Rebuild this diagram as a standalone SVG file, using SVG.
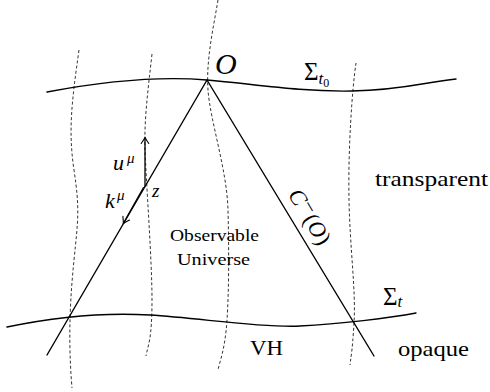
<svg xmlns="http://www.w3.org/2000/svg" width="490" height="392" viewBox="0 0 490 392">
<style>
.s{fill:none;stroke:#000;stroke-width:1.4;stroke-linecap:round;stroke-linejoin:round}
.d{fill:none;stroke:#000;stroke-width:0.8;stroke-dasharray:3 2.2}
.a{fill:none;stroke:#000;stroke-width:1.3}
.t{font-family:'Liberation Serif','DejaVu Serif',serif;fill:#000;font-weight:normal}
.m{font-style:italic}
</style>
<defs>
<marker id="ah" markerUnits="userSpaceOnUse" markerWidth="12" markerHeight="12" viewBox="-7 -6 9 12" refX="0" refY="0" orient="auto">
<path d="M-6,-3.8 Q-2,-1 0,0 Q-2,1 -6,3.8" fill="none" stroke="#000" stroke-width="1.1" stroke-linecap="round"/>
</marker>
</defs>
<rect width="490" height="392" fill="#fff"/>
<g id="worldlines">
<path class="d" d="M79,50 C72,100 68,130 74,170 S78,220 74,260 S68,340 72,388"/>
<path class="d" d="M152,54 C148,90 144,120 145,150 S152,260 152,300 S148,345 146,356"/>
<path class="d" d="M218,0 C213,30 206,60 208,90 S227,170 228,210 S229,290 227,320 S220,360 218,370"/>
<path class="d" d="M356,63 C352,90 348,150 349,200 S356,290 354,323 S351,355 350,365"/>
</g>
<g id="surfaces">
<path class="s" d="M47,92 C100,82 160,76 207,80 S300,92 352,91 S425,82 456,79"/>
<path class="s" d="M7,327 C50,318 100,312 150,315 S260,328 300,326 S390,318 416,313"/>
</g>
<g id="connectors">
<path class="s" d="M47,355 L207,80 L374,356"/>
<line class="a" x1="145" y1="187" x2="145" y2="137.5" marker-end="url(#ah)"/>
<line class="a" x1="143.6" y1="187.2" x2="123.3" y2="223.5" marker-end="url(#ah)"/>
</g>
<g id="labels">
<text class="t m" x="215" y="74" font-size="30">O</text>
<text class="t" x="304" y="80" font-size="25">Σ<tspan class="m" font-size="17" dy="4">t</tspan><tspan font-size="12" dy="2.5">0</tspan></text>
<text class="t" x="383" y="305" font-size="25">Σ<tspan class="m" font-size="17" dy="2">t</tspan></text>
<text class="t m" x="113" y="170" font-size="22">u<tspan font-size="15" x="127" y="163">μ</tspan></text>
<text class="t m" x="105" y="208" font-size="22">k<tspan font-size="15" x="117" y="200">μ</tspan></text>
<text class="t m" x="152" y="197" font-size="19">z</text>
<text class="t" x="375" y="186" font-size="21" textLength="113" lengthAdjust="spacingAndGlyphs">transparent</text>
<text class="t" x="398" y="356" font-size="21" textLength="71" lengthAdjust="spacingAndGlyphs">opaque</text>
<text class="t" x="250" y="355" font-size="22" textLength="33" lengthAdjust="spacingAndGlyphs">VH</text>
<text class="t" x="170" y="241" font-size="17" textLength="89" lengthAdjust="spacingAndGlyphs">Observable</text>
<text class="t" x="177" y="265" font-size="17" textLength="73" lengthAdjust="spacingAndGlyphs">Universe</text>
<g transform="translate(303.3,220.6) rotate(58.8)">
<text class="t" x="0" y="0" font-size="23" text-anchor="middle"><tspan class="m">C</tspan><tspan font-size="21" dy="-6" dx="1">−</tspan><tspan dy="6" dx="1">(</tspan><tspan class="m">O</tspan>)</text>
</g>
</g>
</svg>
